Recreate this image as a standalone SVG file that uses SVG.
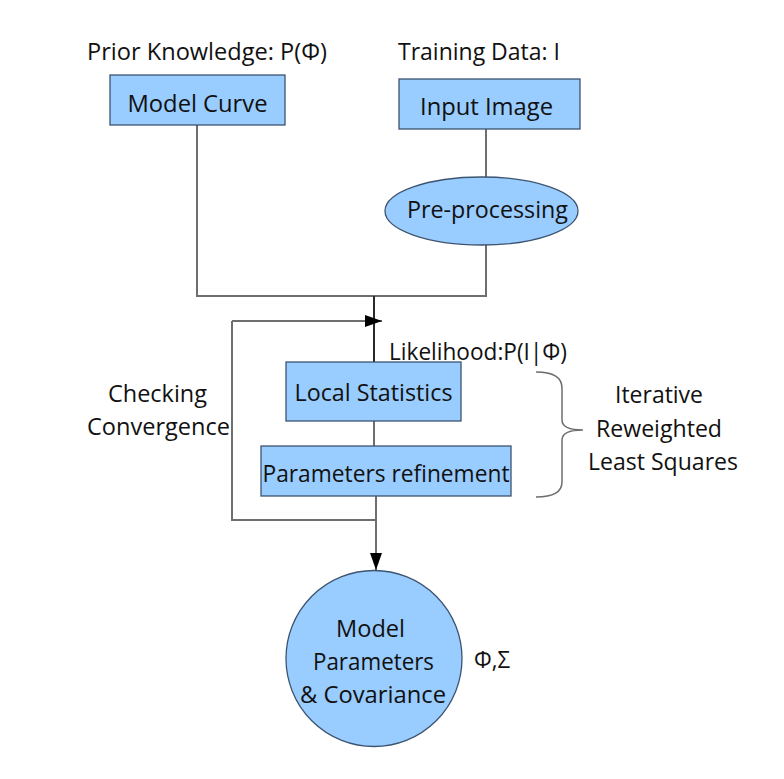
<svg xmlns="http://www.w3.org/2000/svg" width="784" height="779" viewBox="0 0 784 779">
<style>
text{font-family:"Open Sans","Noto Sans","Liberation Sans",sans-serif;font-size:23px;fill:#111;}
.c{text-anchor:middle;}
.node{fill:#99ccff;stroke:#3d5470;stroke-width:1.3;}
.line{fill:none;stroke:#6e6e6e;stroke-width:2;}
.dark{fill:none;stroke:#2a2a2a;stroke-width:2;}
</style>
<defs>
<marker id="ah" markerWidth="18" markerHeight="12" refX="17" refY="6" orient="auto" markerUnits="userSpaceOnUse">
<path d="M0,0 L17,6 L0,12 Z" fill="#000"/>
</marker>
</defs>
<rect width="784" height="779" fill="#fff"/>
<text x="87" y="60" textLength="240" lengthAdjust="spacingAndGlyphs">Prior Knowledge: P(Φ)</text>
<text x="398" y="60" textLength="162" lengthAdjust="spacingAndGlyphs">Training Data: I</text>
<g id="connectors">
<path class="line" d="M197,125 V296 H486 V245"/>
<path class="line" d="M486,129 V177"/>
<path class="dark" d="M374,296 V362"/>
<path class="line" d="M232,321 H382" marker-end="url(#ah)"/>
<path class="line" d="M232,321 V520 H376"/>
<path class="line" d="M374,421 V446"/>
<path class="line" d="M376,496 V570" marker-end="url(#ah)"/>
<path class="line" d="M536,372 Q562,372 562,388 V420 Q562,430 583,430 Q562,430 562,440 V482 Q562,497 536,497" style="stroke-width:1.5"/>
</g>
<g id="model-curve">
<rect class="node" x="110" y="75" width="175" height="50"/>
<text class="c" x="197.5" y="112" textLength="140" lengthAdjust="spacingAndGlyphs">Model Curve</text>
</g>
<g id="input-image">
<rect class="node" x="399" y="79" width="181" height="50"/>
<text class="c" x="486.5" y="115" textLength="133" lengthAdjust="spacingAndGlyphs">Input Image</text>
</g>
<g id="pre-processing">
<ellipse class="node" cx="481.5" cy="211" rx="96.5" ry="34"/>
<text class="c" x="487.5" y="218" textLength="161" lengthAdjust="spacingAndGlyphs">Pre-processing</text>
</g>
<text x="389" y="360" textLength="178" lengthAdjust="spacingAndGlyphs">Likelihood:P(I|Φ)</text>
<g id="local-statistics">
<rect class="node" x="286" y="362" width="175" height="59"/>
<text class="c" x="373.5" y="401" textLength="158" lengthAdjust="spacingAndGlyphs">Local Statistics</text>
</g>
<g id="parameters-refinement">
<rect class="node" x="261" y="446" width="250" height="50"/>
<text class="c" x="386" y="482" textLength="247" lengthAdjust="spacingAndGlyphs">Parameters refinement</text>
</g>
<g id="checking-convergence">
<text class="c" x="157.5" y="402" textLength="99" lengthAdjust="spacingAndGlyphs">Checking</text>
<text class="c" x="158.5" y="435" textLength="143" lengthAdjust="spacingAndGlyphs">Convergence</text>
</g>
<g id="irls">
<text class="c" x="659" y="403" textLength="88" lengthAdjust="spacingAndGlyphs">Iterative</text>
<text class="c" x="659" y="437" textLength="126" lengthAdjust="spacingAndGlyphs">Reweighted</text>
<text class="c" x="663" y="470" textLength="150" lengthAdjust="spacingAndGlyphs">Least Squares</text>
</g>
<g id="model-parameters">
<circle class="node" cx="374" cy="658.5" r="88"/>
<text class="c" x="370.5" y="637" textLength="69" lengthAdjust="spacingAndGlyphs">Model</text>
<text class="c" x="373.5" y="670" textLength="121" lengthAdjust="spacingAndGlyphs">Parameters</text>
<text class="c" x="373" y="703" textLength="146" lengthAdjust="spacingAndGlyphs">&amp; Covariance</text>
</g>
<text x="474" y="668" textLength="36" lengthAdjust="spacingAndGlyphs">Φ,Σ</text>
</svg>
